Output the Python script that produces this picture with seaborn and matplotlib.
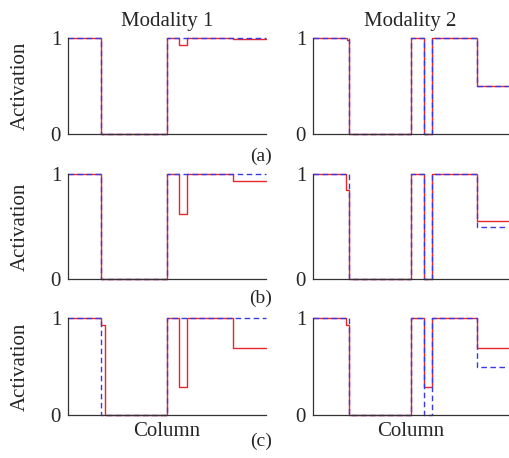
import numpy as np
import pandas as pd
import seaborn as sns
import matplotlib
matplotlib.use('Agg')
import matplotlib.pyplot as plt

sns.set_style(style='white')
plt.rcParams['font.family'] = ['Liberation Serif', 'DejaVu Serif']

# activation per column, stored as (value, run length) pairs, 100 columns
target_mod1 = [(1, 17), (0, 33), (1, 50)]
target_mod2 = [(1, 19), (0, 31), (1, 7), (0, 4), (1, 23), (0.5, 16)]

output_mod1_a = [(1, 17), (0, 33), (1, 6), (0.93, 4), (1, 23), (0.99, 17)]
output_mod1_b = [(1, 17), (0, 33), (1, 6), (0.62, 4), (1, 23), (0.93, 17)]
output_mod1_c = [(1, 17), (0.93, 2), (0, 31), (1, 6), (0.29, 4), (1, 23), (0.69, 17)]

output_mod2_a = [(1, 18), (0.98, 1), (0, 31), (1, 7), (0, 4), (1, 23), (0.5, 16)]
output_mod2_b = [(1, 17), (0.85, 2), (0, 31), (1, 7), (0, 4), (1, 23), (0.55, 16)]
output_mod2_c = [(1, 17), (0.93, 2), (0, 31), (1, 7), (0.29, 4), (1, 23), (0.69, 16)]

row_labels = ['(a)', '(b)', '(c)']
col_titles = ['Modality 1', 'Modality 2']

RED = '#e8262b'
BLUE = '#3a3ae6'

W, H = 509, 458


def expand(runs):
    vals = [v for v, n in runs]
    counts = [n for v, n in runs]
    return np.repeat(vals, counts)


def make_df(runs):
    y = expand(runs)
    return pd.DataFrame({'column': np.arange(len(y)), 'activation': y})


outputs = [[output_mod1_a, output_mod2_a],
           [output_mod1_b, output_mod2_b],
           [output_mod1_c, output_mod2_c]]
targets = [target_mod1, target_mod2]

fig = plt.figure(figsize=(W / 100, H / 100), dpi=100)

# axes boxes in pixels: (left, top, right, bottom)
col_px = [(68, 266), (313, 508)]
row_px = [(38, 134), (174, 279), (318, 415)]

for r, (top, bottom) in enumerate(row_px):
    for c, (left, right) in enumerate(col_px):
        ax = fig.add_axes([left / W, 1 - bottom / H, (right - left) / W, (bottom - top) / H])
        out_df = make_df(outputs[r][c])
        tgt_df = make_df(targets[c])
        sns.lineplot(data=out_df, x='column', y='activation', color=RED,
                     linewidth=1.0, drawstyle='steps-mid', ax=ax, clip_on=False)
        sns.lineplot(data=tgt_df, x='column', y='activation', color=BLUE,
                     linewidth=1.0, dashes=False, linestyle=(0, (4, 2.5)),
                     drawstyle='steps-mid', ax=ax, clip_on=False)
        ax.set_xlim(0, len(tgt_df) - 1)
        ax.set_ylim(0, 1)
        ax.set_xticks([])
        ax.set_yticks([0, 1])
        ax.set_yticklabels(['0', '1'], fontsize=15)
        ax.tick_params(axis='y', length=0, pad=5)
        sns.despine(ax=ax, top=True, right=True)
        for side in ['left', 'bottom']:
            ax.spines[side].set_linewidth(0.9)
            ax.spines[side].set_color('#333333')
        ax.set_ylabel('Activation' if c == 0 else '', fontsize=15, labelpad=15)
        ax.set_xlabel('Column' if r == 2 else '', fontsize=15, labelpad=5)
        if r == 0:
            ax.set_title(col_titles[c], fontsize=15, pad=9)

label_y = [156, 298, 441]
for r, lab in enumerate(row_labels):
    fig.text(261 / W, 1 - label_y[r] / H, lab, fontsize=14, ha='center', va='center')

fig.savefig('out.png', dpi=100)
